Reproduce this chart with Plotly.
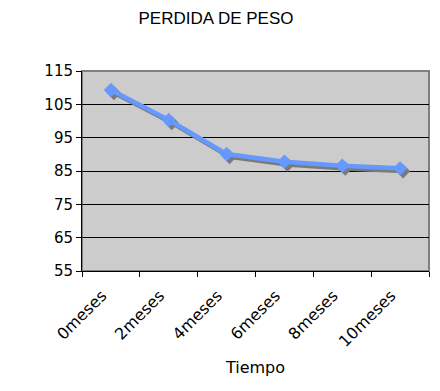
import plotly.graph_objects as go

categorias = ["0meses", "2meses", "4meses", "6meses", "8meses", "10meses"]
peso = [109.3, 100.3, 90.1, 87.8, 86.6, 85.8]
y_ticks = [55, 65, 75, 85, 95, 105, 115]

# page body has an 8px margin, so the figure is placed at (8, 8)
OFF = 8
W, H = 440 - OFF, 391 - OFF
ml, mr, mt, mb = 82 - OFF, 11, 71 - OFF, 120
plot_w = W - ml - mr
plot_h = H - mt - mb
ymin, ymax = 55, 115
# shadow offset in pixels
sx, sy = 3, 3
dy = (ymax - ymin) * sy / plot_h
dx = len(categorias) * sx / plot_w
xr = [-0.5, len(categorias) - 0.5]

fig = go.Figure()
# invisible trace so that the base (visible) axes are drawn
fig.add_trace(go.Scatter(
    x=categorias, y=peso, mode="markers", marker=dict(opacity=0),
    hoverinfo="skip", showlegend=False))
# shadow
fig.add_trace(go.Scatter(
    x=categorias, y=peso, mode="lines+markers", xaxis="x2", yaxis="y2",
    line=dict(color="#7a7a7a", width=4),
    marker=dict(symbol="diamond", size=11, color="#7a7a7a"),
    hoverinfo="skip", showlegend=False))
fig.add_trace(go.Scatter(
    x=categorias, y=peso, mode="lines+markers", xaxis="x3", yaxis="y3",
    line=dict(color="#6699FF", width=4.5),
    marker=dict(symbol="diamond", size=11, color="#6699FF"),
    showlegend=False))

font_axis = "Tahoma, DejaVu Sans, sans-serif"
fig.update_layout(
    width=W, height=H,
    margin=dict(l=ml, r=mr, t=mt, b=mb, autoexpand=False),
    paper_bgcolor="white", plot_bgcolor="#CCCCCC",
    title=dict(text="PERDIDA DE PESO", x=(216 - OFF) / W, xanchor="center",
               y=1 - (18 - OFF) / H, yanchor="middle",
               font=dict(family="Liberation Sans, Arial, sans-serif", size=17, color="black")),
    xaxis=dict(type="category", categoryorder="array", categoryarray=categorias,
               range=xr, automargin=False,
               tickson="boundaries", ticks="outside", ticklen=5, tickcolor="black",
               showline=True, linecolor="black", linewidth=1, mirror=False,
               showgrid=False, tickangle=-45,
               ticklabelstandoff=8, ticklabelshift=-9,
               tickfont=dict(family=font_axis, size=16, color="black"),
               title=dict(text="Tiempo", font=dict(family=font_axis, size=16, color="black"), standoff=11)),
    yaxis=dict(range=[ymin, ymax], tickvals=y_ticks, ticks="outside", ticklen=5, tickcolor="black",
               showline=True, linecolor="black", linewidth=1, automargin=False,
               showgrid=True, gridcolor="black", gridwidth=1, zeroline=False,
               tickfont=dict(family=font_axis, size=15, color="black")),
    xaxis2=dict(type="category", categoryorder="array", categoryarray=categorias,
                range=[xr[0] - dx, xr[1] - dx], overlaying="x", visible=False),
    yaxis2=dict(range=[ymin + dy, ymax + dy], overlaying="y", visible=False),
    xaxis3=dict(type="category", categoryorder="array", categoryarray=categorias,
                range=xr, overlaying="x", visible=False),
    yaxis3=dict(range=[ymin, ymax], overlaying="y", visible=False),
    shapes=[dict(type="rect", xref="paper", yref="paper", x0=0, x1=1, y0=0, y1=1,
                 line=dict(color="#808080", width=2), layer="below")],
)

fig.write_html("out.html")
